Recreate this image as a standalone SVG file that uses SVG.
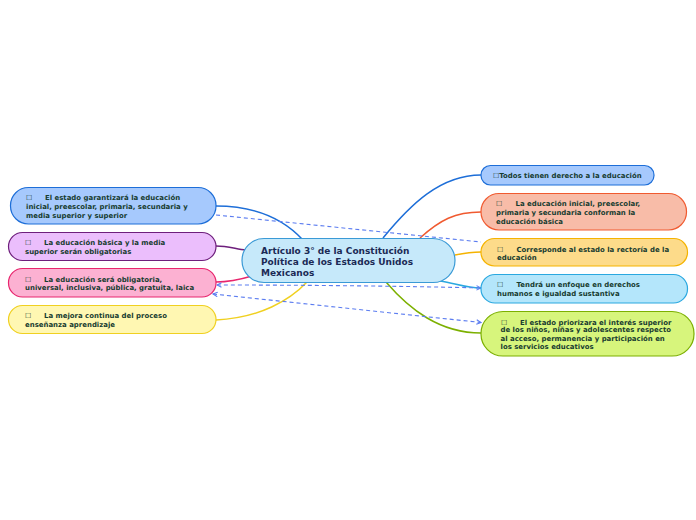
<svg xmlns="http://www.w3.org/2000/svg" width="696" height="520" viewBox="0 0 696 520">
<defs>
<marker id="arr" viewBox="0 0 8 8" refX="7" refY="4" markerWidth="6" markerHeight="6" orient="auto-start-reverse" markerUnits="userSpaceOnUse">
<path d="M1,1 L7,4 L1,7" fill="none" stroke="#5b7cf0" stroke-width="1.4"/>
</marker>
<style>
.t{font-family:"DejaVu Sans",Verdana,sans-serif;font-weight:bold;font-size:6.95px;fill:#173c30}
.c{font-family:"DejaVu Sans",Verdana,sans-serif;font-weight:bold;font-size:9px;fill:#1b2a55}
.n{stroke-width:1.2}
.l{fill:none;stroke-width:1.5}
.d{fill:none;stroke:#5b7cf0;stroke-width:1.1;stroke-dasharray:4 3}
</style>
</defs>
<rect width="696" height="520" fill="#ffffff"/>
<g id="connectors">
<path class="l" stroke="#1d6ed8" d="M303,240 C280,215 250,206 216,206"/>
<path class="l" stroke="#6e1f7c" d="M246,250 C236,249 228,246 216,246"/>
<path class="l" stroke="#e8266e" d="M252,276 C242,279 230,282 216,282"/>
<path class="l" stroke="#f0d020" d="M307,282 C290,300 260,318 216,320"/>
<path class="l" stroke="#1d6ed8" d="M383,238 C410,205 440,175 481,175"/>
<path class="l" stroke="#f05a30" d="M420,238 C440,220 455,212 481,212"/>
<path class="l" stroke="#f5b300" d="M455,255 C465,253 472,252 481,252"/>
<path class="l" stroke="#2aa8e0" d="M440,281 C455,283 465,288 481,288"/>
<path class="l" stroke="#7cb000" d="M386,282 C410,310 440,333 481,333"/>
<path class="d" d="M216,215 L481,242"/>
<path class="d" marker-start="url(#arr)" marker-end="url(#arr)" d="M217,285 C300,285 400,286 481,288"/>
<path class="d" marker-start="url(#arr)" marker-end="url(#arr)" d="M213,294 L481,322.5"/>
</g>
<g id="central">
<rect class="n" x="242" y="238.5" width="213" height="44" rx="22" fill="#c6e9fa" stroke="#3a9ad6"/>
<text class="c" x="261" y="253.5">Artículo 3° de la Constitución</text>
<text class="c" x="261" y="264.5">Política de los Estados Unidos</text>
<text class="c" x="261" y="275.5">Mexicanos</text>
</g>
<g id="l1">
<rect class="n" x="10.5" y="187.5" width="205.5" height="36.5" rx="18" fill="#a6c9fd" stroke="#1d6ed8"/>
<text class="t" x="26" y="200">☐<tspan x="45">El estado garantizará la educación</tspan></text>
<text class="t" x="26" y="209">inicial, preescolar, primaria, secundaria y</text>
<text class="t" x="26" y="217.5">media superior y superior</text>
</g>
<g id="l2">
<rect class="n" x="8.5" y="232.5" width="207.5" height="28" rx="14" fill="#ebbefc" stroke="#6e1f7c"/>
<text class="t" x="25" y="245">☐<tspan x="44">La educación básica y la media</tspan></text>
<text class="t" x="25" y="254">superior serán obligatorias</text>
</g>
<g id="l3">
<rect class="n" x="8.5" y="268.5" width="207.5" height="28.5" rx="14" fill="#fcb1d2" stroke="#e8266e"/>
<text class="t" x="25" y="281.5">☐<tspan x="44">La educación será obligatoria,</tspan></text>
<text class="t" x="25" y="290">universal, inclusiva, pública, gratuita, laica</text>
</g>
<g id="l4">
<rect class="n" x="8.5" y="305.5" width="207.5" height="28" rx="14" fill="#fff7b2" stroke="#f0d020"/>
<text class="t" x="25" y="317.5">☐<tspan x="44">La mejora continua del proceso</tspan></text>
<text class="t" x="25" y="327">enseñanza aprendizaje</text>
</g>
<g id="r1">
<rect class="n" x="481" y="165.5" width="173" height="19.5" rx="9.5" fill="#a6c9fd" stroke="#1d6ed8"/>
<text class="t" x="493" y="178">☐Todos tienen derecho a la educación</text>
</g>
<g id="r2">
<rect class="n" x="481" y="193.5" width="205.5" height="36.5" rx="18" fill="#f8bca8" stroke="#f05a30"/>
<text class="t" x="496" y="206">☐<tspan x="515.5">La educación inicial, preescolar,</tspan></text>
<text class="t" x="496" y="214.5">primaria y secundaria conforman la</text>
<text class="t" x="496" y="223.5">educación básica</text>
</g>
<g id="r3">
<rect class="n" x="481" y="238.5" width="206.5" height="27.5" rx="13.5" fill="#fddb8a" stroke="#f5b300"/>
<text class="t" x="497" y="251.5">☐<tspan x="516.5">Corresponde al estado la rectoría de la</tspan></text>
<text class="t" x="497" y="260">educación</text>
</g>
<g id="r4">
<rect class="n" x="481" y="274.5" width="206.5" height="28.5" rx="14" fill="#b4e6fb" stroke="#2aa8e0"/>
<text class="t" x="497" y="287">☐<tspan x="516.5">Tendrá un enfoque en derechos</tspan></text>
<text class="t" x="497" y="296">humanos e igualdad sustantiva</text>
</g>
<g id="r5">
<rect class="n" x="481" y="311.5" width="213" height="44.5" rx="22" fill="#d7f57c" stroke="#7cb000"/>
<text class="t" x="501" y="324.5">☐<tspan x="520">El estado priorizara el interés superior</tspan></text>
<text class="t" x="500.5" y="332">de los niños, niñas y adolescentes respecto</text>
<text class="t" x="500.5" y="340.5">al acceso, permanencia y participación en</text>
<text class="t" x="500.5" y="349">los servicios educativos</text>
</g>
</svg>
